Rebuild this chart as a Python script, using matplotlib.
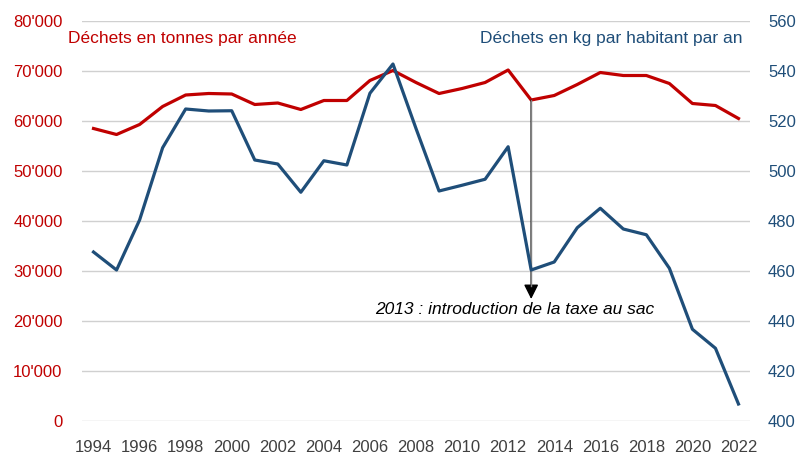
import matplotlib
matplotlib.use("Agg")
import matplotlib.pyplot as plt
from matplotlib.ticker import FuncFormatter

years = list(range(1994, 2023))
tonnes = [58500, 57300, 59300, 62900, 65200, 65500, 65400, 63300, 63600, 62300,
          64100, 64100, 68100, 70100, 67700, 65500, 66500, 67700, 70200, 64200,
          65100, 67300, 69700, 69100, 69100, 67500, 63500, 63100, 60500]
kg_hab = [467.6, 460.4, 480.4, 509.3, 524.8, 524.0, 524.1, 504.4, 502.8, 491.5,
          504.1, 502.4, 531.1, 542.8, 517.0, 492.0, 494.3, 496.7, 509.7, 460.4,
          463.6, 477.3, 485.1, 476.8, 474.5, 461.1, 436.7, 429.1, 406.8]

red = "#C00000"
blue = "#1F4E79"
plt.rcParams['font.family'] = ['Liberation Sans', 'DejaVu Sans']

fig = plt.figure(figsize=(8.01, 4.57), dpi=100)
ax = fig.add_axes([82 / 801, 36 / 457, 668 / 801, 400 / 457])
ax2 = ax.twinx()

ax.plot(years, tonnes, color=red, lw=2.3, zorder=3)
ax2.plot(years, kg_hab, color=blue, lw=2.3, zorder=3)

ax.set_xlim(1993.5, 2022.5)
ax.set_ylim(0, 80000)
ax2.set_ylim(400, 560)
ax.set_yticks(range(0, 80001, 10000))
ax2.set_yticks(range(400, 561, 20))
ax.set_xticks(years[::2])
ax.yaxis.set_major_formatter(FuncFormatter(lambda v, p: f"{int(v):,}".replace(",", "'")))

ax.grid(axis='y', color='#D0D0D0', lw=1)
ax.set_axisbelow(True)
for a in (ax, ax2):
    for s in a.spines.values():
        s.set_visible(False)
ax.tick_params(axis='x', length=0, pad=14, labelsize=12, labelcolor='#404040')
ax.tick_params(axis='y', length=0, pad=14, labelsize=12, labelcolor=red)
ax2.tick_params(axis='y', length=0, pad=13, labelsize=12, labelcolor=blue)

ax.text(-0.021, 0.9575, "Déchets en tonnes par année", color=red, fontsize=12.5,
        ha='left', va='center', transform=ax.transAxes)
ax.text(0.9895, 0.9575, "Déchets en kg par habitant par an", color=blue, fontsize=12.5,
        ha='right', va='center', transform=ax.transAxes)

# annotation 2013
ax.annotate("", xy=(2013, 24400), xytext=(2013, tonnes[19]),
            arrowprops=dict(arrowstyle='-|>', lw=1, mutation_scale=22,
                            shrinkA=0, shrinkB=0, fc='black', ec='black'), zorder=4)
ax.plot([2013, 2013], [tonnes[19], 27000], color='#808080', lw=1, zorder=4)
ax.text(2012.3, 22300, "2013 : introduction de la taxe au sac", fontsize=12.5,
        style='italic', ha='center', va='center', color='black', zorder=5)

fig.savefig("out.png", dpi=100)
